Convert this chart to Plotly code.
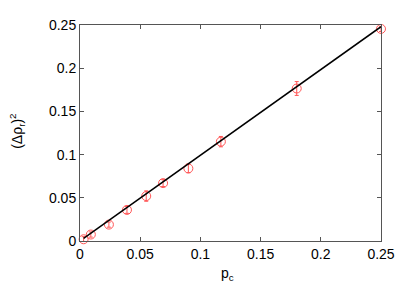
import plotly.graph_objects as go

pc = [0.003, 0.009, 0.024, 0.039, 0.055, 0.069, 0.090, 0.117, 0.180, 0.250]
drho2 = [0.002, 0.0075, 0.019, 0.036, 0.052, 0.067, 0.084, 0.115, 0.1765, 0.2455]
err = [0.003, 0.003, 0.003, 0.004, 0.006, 0.004, 0.005, 0.006, 0.008, 0.003]
fit_x = [0.003, 0.25]
fit_y = [0.003, 0.248]
ticks = [0, 0.05, 0.1, 0.15, 0.2, 0.25]
tick_text = ["0", "0.05", "0.1", "0.15", "0.2", "0.25"]

FONT = "Liberation Sans, Arial, Helvetica"

fig = go.Figure()
fig.add_trace(go.Scatter(
    x=pc, y=drho2, mode="markers",
    marker=dict(symbol="circle-open", size=9, color="#ff5555", line=dict(width=1)),
    error_y=dict(type="data", array=err, color="#ff5555", thickness=1, width=2),
    showlegend=False, cliponaxis=False))
fig.add_trace(go.Scatter(
    x=fit_x, y=fit_y, mode="lines", line=dict(color="black", width=1.5),
    showlegend=False, cliponaxis=False))

axis_common = dict(
    showgrid=False, zeroline=False, showline=True, linecolor="#555555", linewidth=1,
    mirror="ticks", ticks="inside", ticklen=4, tickcolor="#555555",
    tickvals=ticks, ticktext=tick_text,
    tickfont=dict(family=FONT, size=14, color="black"),
)
fig.update_xaxes(range=[0, 0.25], **axis_common)
fig.update_yaxes(range=[0, 0.25], **axis_common)

fig.add_annotation(text="p<sub>c</sub>", xref="paper", yref="paper", x=0.49, y=-0.152,
                   xanchor="center", yanchor="middle", showarrow=False,
                   font=dict(family=FONT, size=14, color="black"))
fig.add_annotation(text="(Δρ<sub>r</sub>)<sup>2</sup>", xref="paper", yref="paper",
                   x=-0.21, y=0.509, textangle=-90,
                   xanchor="center", yanchor="middle", showarrow=False,
                   font=dict(family=FONT, size=14, color="black"))

fig.update_layout(
    width=397, height=276,
    margin=dict(l=72, r=24, t=9, b=43),
    paper_bgcolor="white", plot_bgcolor="white",
)
fig.write_html("out.html")
